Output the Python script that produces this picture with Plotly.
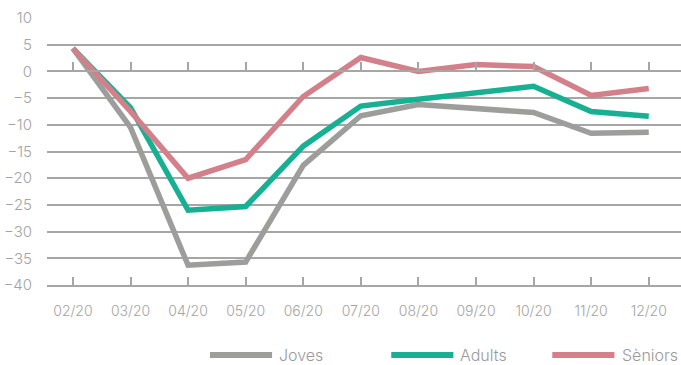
import plotly.graph_objects as go

months = ["02/20", "03/20", "04/20", "05/20", "06/20", "07/20",
          "08/20", "09/20", "10/20", "11/20", "12/20"]

joves = [4.3, -10.5, -36.3, -35.7, -17.6, -8.3, -6.2, -7.0, -7.7, -11.6, -11.4]
adults = [4.3, -6.8, -26.0, -25.3, -14.0, -6.5, -5.2, -4.0, -2.8, -7.5, -8.4]
seniors = [4.3, -7.5, -20.0, -16.5, -4.7, 2.6, 0.0, 1.3, 0.9, -4.5, -3.2]

series_names = ["Joves", "Adults", "Sèniors"]
series_values = [joves, adults, seniors]
series_colors = ["#9d9d9c", "#17b092", "#d4808a"]

y_ticks = list(range(-40, 11, 5))
y_min, y_max = -40, 10

grid_color = "#a6a6a6"
text_color = "#a3a3a3"
font_family = "Inter"

fig = go.Figure()
x_idx = list(range(len(months)))
for name, vals, col in zip(series_names, series_values, series_colors):
    fig.add_trace(go.Scatter(
        x=x_idx, y=vals, name=name, mode="lines",
        line=dict(color=col, width=5.5, shape="linear"),
        showlegend=False, cliponaxis=False,
    ))

# zero-crossing axis carrying the upper row of tick marks
zero_pos = (0 - y_min) / (y_max - y_min)
fig.add_trace(go.Scatter(x=x_idx, y=[None] * len(x_idx), xaxis="x2",
                         showlegend=False, hoverinfo="skip"))

x_range = [-0.45, 10.56]
fig.update_layout(
    width=681, height=365,
    margin=dict(l=47, r=0, t=18, b=80),
    paper_bgcolor="white", plot_bgcolor="white",
    font=dict(family=font_family, color=text_color, size=14, weight=300),
    xaxis=dict(
        range=x_range, tickmode="array", tickvals=x_idx, ticktext=months,
        showgrid=False, zeroline=False,
        showline=True, linecolor=grid_color, linewidth=2,
        ticks="inside", ticklen=8, tickwidth=2, tickcolor=grid_color,
        ticklabelstandoff=12,
        tickfont=dict(size=14, color=text_color, family=font_family, weight=300),
    ),
    xaxis2=dict(
        range=x_range, overlaying="x", anchor="free", position=zero_pos,
        side="bottom", tickmode="array", tickvals=x_idx,
        showticklabels=False, showgrid=False, zeroline=False,
        showline=True, linecolor=grid_color, linewidth=2,
        ticks="inside", ticklen=8, tickwidth=2, tickcolor=grid_color,
    ),
    yaxis=dict(
        range=[y_min, y_max], tickmode="array", tickvals=y_ticks,
        showgrid=True, gridcolor=grid_color, gridwidth=2,
        zeroline=False, showline=False, ticks="",
        ticklabelstandoff=14,
        tickfont=dict(size=15, color=text_color, family=font_family, weight=300),
    ),
)

# custom legend: long line sample followed by the series name
legend_x = [0.257, 0.543, 0.797]
legend_y = -0.262
sample_len = 0.098
for name, col, lx in zip(series_names, series_colors, legend_x):
    fig.add_shape(type="line", xref="paper", yref="paper",
                  x0=lx, x1=lx + sample_len, y0=legend_y, y1=legend_y,
                  line=dict(color=col, width=6))
    fig.add_annotation(xref="paper", yref="paper", x=lx + sample_len + 0.008,
                       y=legend_y, text=name, showarrow=False,
                       xanchor="left", yanchor="middle",
                       font=dict(size=16, color="#9a9a9a", family=font_family, weight=300))

fig.write_html("out.html")
